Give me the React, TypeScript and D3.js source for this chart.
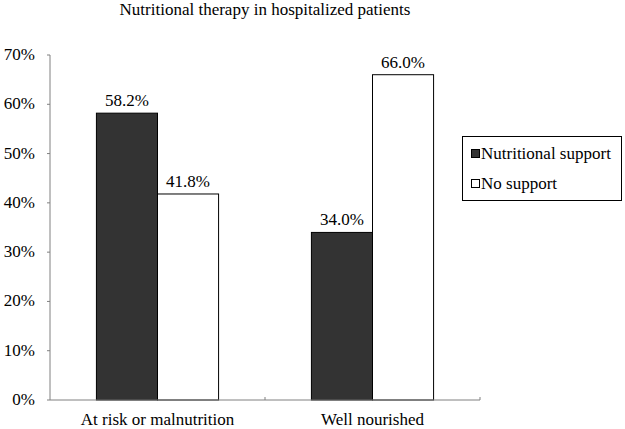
import React from "react";
import * as d3 from "d3";

const categories = ["At risk or malnutrition", "Well nourished"];
const seriesNames = ["Nutritional support", "No support"];
const supportValues = [58.2, 34.0];
const noSupportValues = [41.8, 66.0];
const yTicks = [0, 10, 20, 30, 40, 50, 60, 70];
const title = "Nutritional therapy in hospitalized patients";

const W = 625, H = 429;
const margin = { left: 50, right: 145, top: 55, bottom: 29 };
const FONT = "Liberation Serif";
const fills = ["#333333", "#ffffff"];
const ts = { fontFamily: FONT };
const FS = 17;

export default function App() {
  const x0 = d3.scaleBand().domain(categories).range([margin.left, W - margin.right]).paddingInner(0).paddingOuter(0);
  const x1 = d3.scaleBand().domain(seriesNames).range([0, x0.bandwidth()]).paddingInner(0).paddingOuter(0.76);
  const y = d3.scaleLinear().domain([0, 70]).range([H - margin.bottom, margin.top]);
  const series = [supportValues, noSupportValues];
  const x0Range = x0.range();
  const boundaries = [...categories.map((c) => x0(c)!), x0Range[1]];

  return (
    <svg width={W} height={H} style={{ position: "absolute", left: 0, top: 0, background: "#fff" }}>
      <rect x={0} y={0} width={W} height={H} fill="#fff" />
      <text x={(x0Range[0] + x0Range[1]) / 2} y={15} textAnchor="middle" fontSize={17} fill="#000" style={ts}>{title}</text>
      {categories.map((c, ci) =>
        seriesNames.map((s, si) => {
          const v = series[si][ci];
          const bx = x0(c)! + x1(s)!;
          return (
            <g key={c + s}>
              <rect x={bx} y={y(v)} width={x1.bandwidth()} height={y(0) - y(v)} fill={fills[si]} stroke="#000" strokeWidth={1} />
              <text x={bx + x1.bandwidth() / 2} y={y(v) - 7} textAnchor="middle" fontSize={FS} fill="#000" style={ts}>{v.toFixed(1)}%</text>
            </g>
          );
        })
      )}
      <line x1={margin.left} x2={margin.left} y1={y(70)} y2={y(0)} stroke="#808080" />
      <line x1={margin.left} x2={x0Range[1]} y1={y(0)} y2={y(0)} stroke="#808080" />
      {yTicks.map((t) => (
        <g key={t}>
          <line x1={margin.left - 3} x2={margin.left} y1={y(t)} y2={y(t)} stroke="#808080" />
          <text x={35} y={y(t) + 5} textAnchor="end" fontSize={FS} fill="#000" style={ts}>{t}%</text>
        </g>
      ))}
      {boundaries.slice(1).map((bx, i) => (
        <line key={i} x1={bx} x2={bx} y1={y(0)} y2={y(0) - 3} stroke="#808080" />
      ))}
      {categories.map((c) => (
        <text key={c} x={x0(c)! + x0.bandwidth() / 2} y={425} textAnchor="middle" fontSize={FS} fill="#000" style={ts}>{c}</text>
      ))}
      <rect x={462.5} y={136.5} width={159} height={64} fill="#fff" stroke="#000" />
      {seriesNames.map((s, i) => (
        <g key={s}>
          <rect x={471.5} y={149.5 + i * 30} width={8} height={8} fill={fills[i]} stroke="#000" />
          <text x={481} y={159 + i * 30} fontSize={FS} fill="#000" style={ts}>{s}</text>
        </g>
      ))}
    </svg>
  );
}
